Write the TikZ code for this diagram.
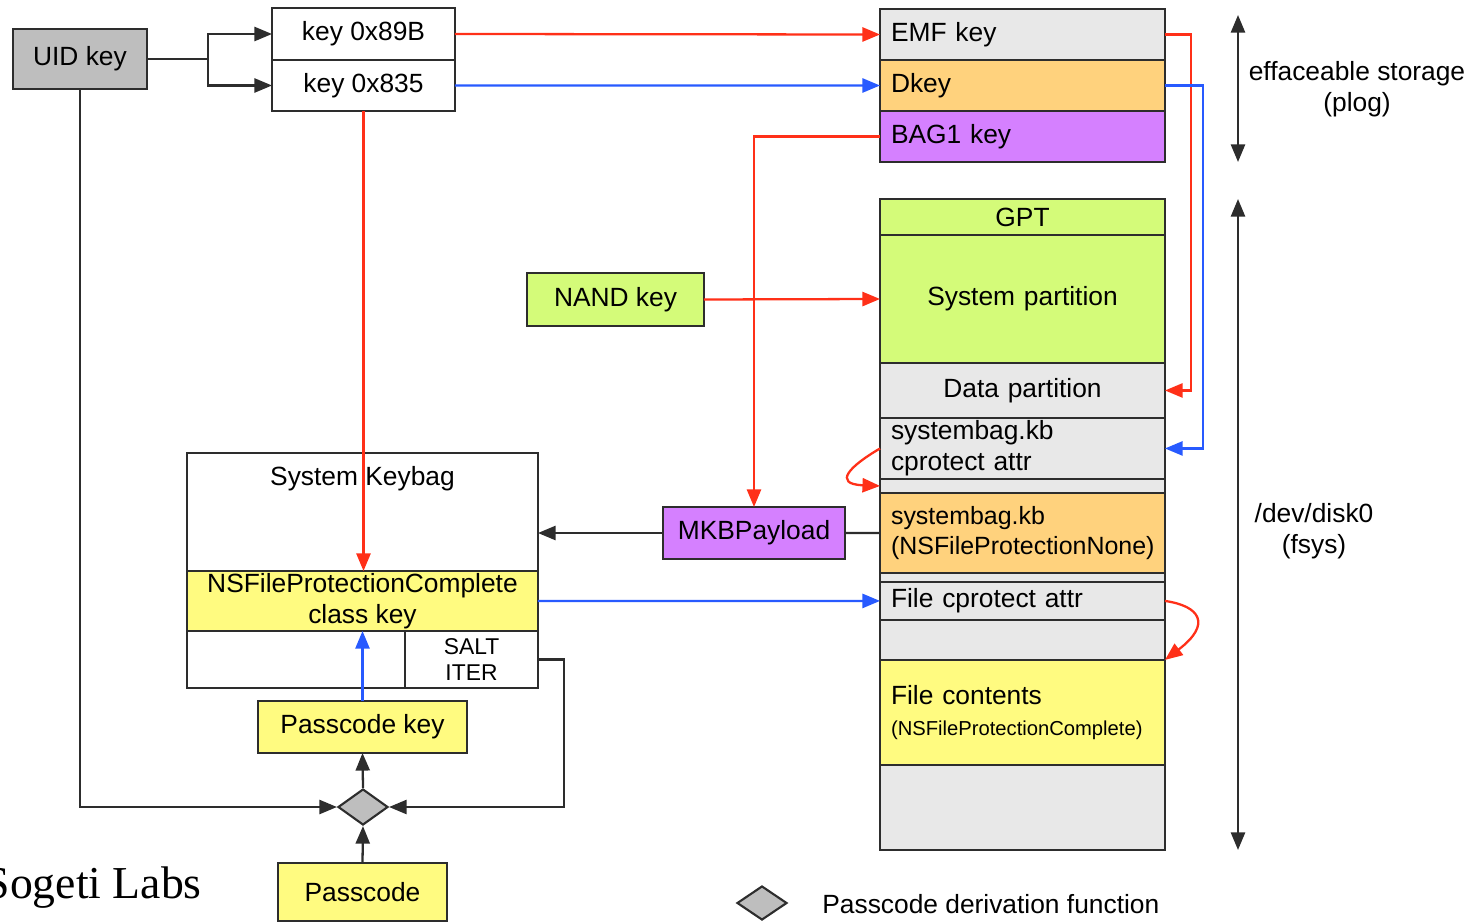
\documentclass[tikz,border=0pt]{standalone}
\usepackage{fontspec}
\setmainfont{Liberation Sans}
\newfontfamily\labfont{Liberation Serif}
\definecolor{kbred}{RGB}{255,48,24}
\definecolor{kbblue}{RGB}{40,90,255}
\definecolor{kbgray}{RGB}{190,190,190}
\definecolor{kblight}{RGB}{232,232,232}
\definecolor{kborange}{RGB}{255,210,125}
\definecolor{kbpurple}{RGB}{213,128,255}
\definecolor{kbgreen}{RGB}{212,251,121}
\definecolor{kbyellow}{RGB}{255,251,128}
\definecolor{kbline}{RGB}{45,45,45}
\usetikzlibrary{arrows.meta,positioning,shapes.geometric}

\tikzset{
  keybox/.style={draw=kbline, line width=1.2pt, inner sep=0pt, outer sep=0pt, align=center},
  rowbox/.style={keybox, minimum width=5.7cm, text width=5.26cm},
  tip/.style={-{Triangle[length=10pt,width=8pt]}},
  redline/.style={kbred, line width=1.3pt, tip},
  blueline/.style={kbblue, line width=1.3pt, tip},
  blackline/.style={kbline, line width=1.3pt},
  pdfbox/.style={diamond, draw=kbline, fill=kbgray, line width=1.2pt, inner sep=0pt,
                 minimum width=1cm, minimum height=0.72cm}
}

\begin{document}
\begin{tikzpicture}[x=0.02cm, y=-0.02cm, font=\fontsize{15}{17.5}\selectfont]
\useasboundingbox (0,0) rectangle (1477,923);

% --- Keys derived from the UID ---
\node[keybox, fill=kbgray, minimum width=2.68cm, minimum height=1.2cm] (uid) at (80,59) {UID key};
\node[keybox, minimum width=3.66cm, minimum height=1.04cm] (k89b) at (363.5,34) {key 0x89B};
\node[keybox, minimum width=3.66cm, minimum height=1.02cm, below=0pt of k89b] (k835) {key 0x835};
\coordinate (split) at (208,59);
\draw[blackline] (uid.east) -- (split);
\draw[blackline, tip] (split) |- (k89b.west);
\draw[blackline, tip] (split) |- (k835.west);

% --- Effaceable storage ---
\node[rowbox, fill=kblight, minimum height=1.02cm, align=left] (emf) at (1022.5,34.5) {EMF key};
\node[rowbox, fill=kborange, minimum height=1.02cm, align=left, below=0pt of emf] (dkey) {Dkey};
\node[rowbox, fill=kbpurple, minimum height=1.02cm, align=left, below=0pt of dkey] (bag) {BAG1 key};

% --- Disk layout ---
\node[rowbox, fill=kbgreen, minimum height=0.72cm, align=center] (gpt) at (1022.5,217) {GPT};
\node[rowbox, fill=kbgreen, minimum height=2.56cm, align=center, below=0pt of gpt] (syspart) {System partition};
\node[rowbox, fill=kblight, minimum height=1.1cm, align=center, below=0pt of syspart] (datapart) {Data partition};
\node[rowbox, fill=kblight, minimum height=1.22cm, align=left, below=0pt of datapart] (sbattr) {systembag.kb\\cprotect attr};
\node[rowbox, fill=kblight, minimum height=0.28cm, below=0pt of sbattr] (gapa) {};
\node[rowbox, fill=kborange, minimum height=1.6cm, align=left, below=0pt of gapa,
      font=\fontsize{14.2}{17.5}\selectfont] (sbnone) {systembag.kb\\(NSFileProtectionNone)};
\node[rowbox, fill=kblight, minimum height=0.18cm, below=0pt of sbnone] (gapb) {};
\node[rowbox, fill=kblight, minimum height=0.76cm, align=left, below=0pt of gapb] (fattr) {File cprotect attr};
\node[rowbox, fill=kblight, minimum height=0.8cm, below=0pt of fattr] (gapc) {};
\node[rowbox, fill=kbyellow, minimum height=2.1cm, align=left, below=0pt of gapc] (fcont)
  {File contents\\{\fontsize{11.5}{14}\selectfont(NSFileProtectionComplete)}};
\node[rowbox, fill=kblight, minimum height=1.7cm, below=0pt of fcont] (rest) {};

% --- NAND key and keybag payload ---
\node[keybox, fill=kbgreen, minimum width=3.54cm, minimum height=1.06cm] (nand) at (615.5,299.5) {NAND key};
\node[keybox, fill=kbpurple, minimum width=3.64cm, minimum height=1.04cm] (mkb) at (754,533) {MKBPayload};

% --- System keybag ---
\node[keybox, minimum width=7.02cm, minimum height=4.7cm] (keybag) at (362.5,570.5) {};
\node (kbtitle) at (362.5,479) {System Keybag};
\node[keybox, fill=kbyellow, minimum width=7.02cm, minimum height=1.2cm] (classkey) at (362.5,601)
  {NSFileProtectionComplete\\class key};
\node[keybox, minimum width=2.66cm, minimum height=1.14cm, font=\fontsize{13}{15}\selectfont] (saltcell)
  at (471.5,659.5) {SALT\\ITER};

% --- Passcode derivation ---
\node[keybox, fill=kbyellow, minimum width=4.18cm, minimum height=1.04cm] (pkey) at (362.5,727) {Passcode key};
\node[pdfbox] (pdf) at (363,807) {};
\node[keybox, fill=kbyellow, minimum width=3.38cm, minimum height=1.16cm] (pass) at (362.5,892) {Passcode};

% red / blue key flows
\draw[redline] (k89b.east) -- (emf.west);
\draw[blueline] (k835.east) -- (dkey.west);
\draw[redline] (k835.south) -- (k835.south |- classkey.north);
\draw[redline] (bag.west) -| (mkb.north);
\draw[redline] (nand.east) -- (syspart.west);
\draw[redline] (emf.east) -- ++(26,0) |- (datapart.east);
\draw[blueline] (dkey.east) -- ++(38,0) |- (sbattr.east);
\draw[redline] (sbattr.west) .. controls (850,466) and (832,484) .. (gapa.west);
\draw[redline] (fattr.east) .. controls (1200,606) and (1212,624) .. (fcont.north east);
\draw[blueline] (classkey.east) -- (fattr.west);
\draw[blueline] (pkey.north) -- (classkey.south);

% black flows
\draw[blackline] (sbnone.west) -- (mkb.east);
\draw[blackline, tip] (mkb.west) -- (mkb.west -| keybag.east);
\draw[blackline, tip] (pdf.north) -- (pkey.south);
\draw[blackline, tip] (pass.north) -- (pdf.south);
\draw[blackline, tip] (uid.south) |- (pdf.west);
\draw[blackline, tip] (saltcell.east) -- ++(26,0) |- (pdf.east);

% --- Region markers ---
\coordinate (efftop) at (1238,15);
\coordinate (effbot) at (1238,162);
\coordinate (disktop) at (1238,199);
\coordinate (diskbot) at (1238,850);
\draw[blackline, {Triangle[length=10pt,width=8pt]}-{Triangle[length=10pt,width=8pt]}] (efftop) -- (effbot);
\draw[blackline, {Triangle[length=10pt,width=8pt]}-{Triangle[length=10pt,width=8pt]}] (disktop) -- (diskbot);
\node[align=center] (efftext) at (1357,89) {effaceable storage\\(plog)};
\node[align=center] (disktext) at (1314,531) {/dev/disk0\\(fsys)};

% --- Legend ---
\node[pdfbox, minimum height=0.68cm] (legpdf) at (762,903) {};
\node[anchor=west, inner sep=0pt] (legtext) at (822,904) {Passcode derivation function};
\node[anchor=base east, inner sep=0pt, font=\labfont\fontsize{26}{30}\selectfont] (sogeti) at (202,898) {Sogeti Labs};

\end{tikzpicture}
\end{document}
